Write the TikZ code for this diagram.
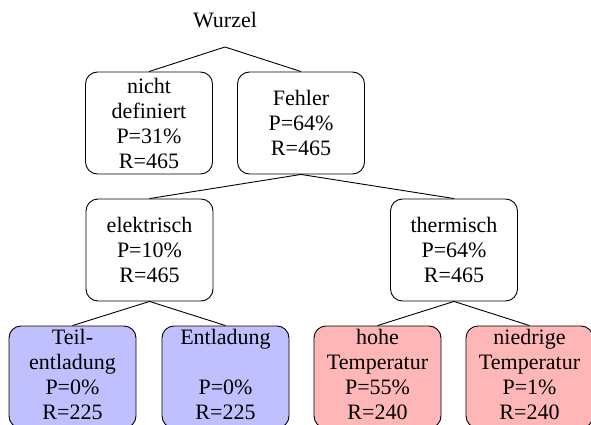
\documentclass[tikz,border=0pt]{standalone}
\usepackage{fontspec}
\setmainfont{Liberation Serif}
\definecolor{leafblue}{RGB}{192,192,255}
\definecolor{leafred}{RGB}{255,182,182}
\begin{document}
\begin{tikzpicture}[x=1pt,y=-1pt,
  box/.style={draw=black,line width=0.9pt,rounded corners=12pt,minimum width=127pt,minimum height=102pt,inner sep=0pt,align=center,font=\fontsize{22}{25}\selectfont,fill=white},
  bluebox/.style={box,fill=leafblue,text depth=5pt},
  redbox/.style={box,fill=leafred,text depth=5pt},
  edge/.style={draw=black,line width=0.9pt}]
\useasboundingbox[fill=white] (0,0) rectangle (591,425);
\begin{scope}
\clip (0,0) rectangle (591,425);
\node[font=\fontsize{22}{25}\selectfont] (wu) at (225,20) {Wurzel};
\coordinate (apex) at (225,47);
\node[box] (nd) at (149,123) {nicht\\definiert\\P=31\%\\R=465};
\node[box] (fe) at (301,123) {Fehler\\P=64\%\\R=465};
\node[box] (el) at (149.5,250) {elektrisch\\P=10\%\\R=465};
\node[box] (th) at (454,250) {thermisch\\P=64\%\\R=465};
\node[bluebox] (tl) at (72.5,377) {Teil-\\entladung\\P=0\%\\R=225};
\node[bluebox] (en) at (225.5,377) {Entladung\\\mbox{}\\P=0\%\\R=225};
\node[redbox] (ho) at (377.5,377) {hohe\\Temperatur\\P=55\%\\R=240};
\node[redbox] (ni) at (529.5,377) {niedrige\\Temperatur\\P=1\%\\R=240};
\draw[edge] (nd.north) -- (apex) -- (fe.north);
\draw[edge] (el.north) -- (fe.south) -- (th.north);
\draw[edge] (tl.north) -- (el.south) -- (en.north);
\draw[edge] (ho.north) -- (th.south) -- (ni.north);
\end{scope}
\end{tikzpicture}
\end{document}
